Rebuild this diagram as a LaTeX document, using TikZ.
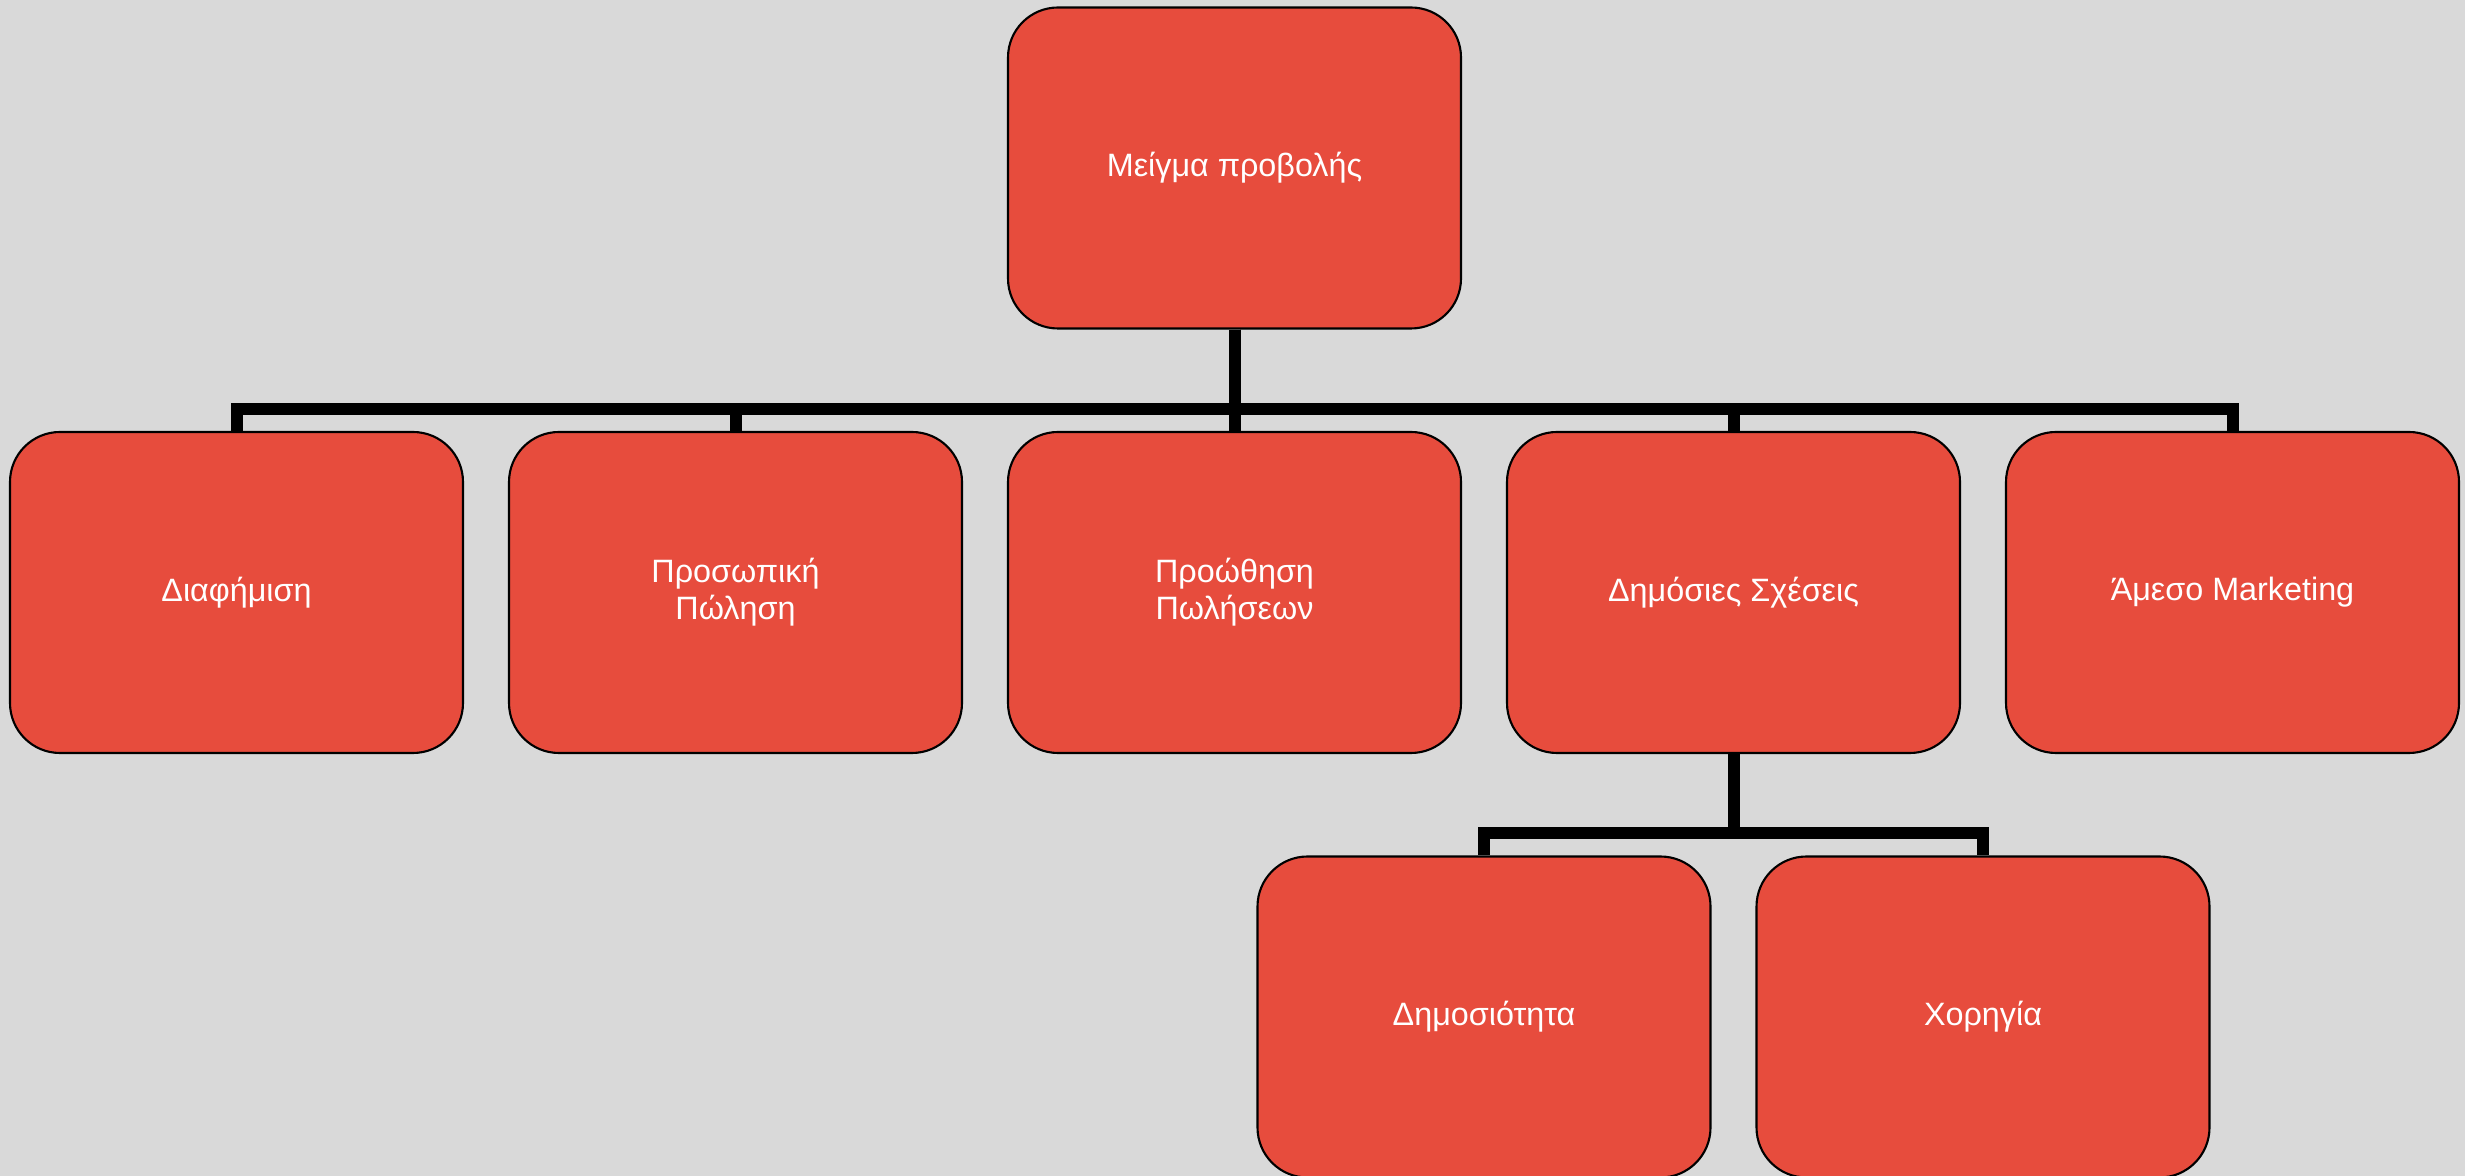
\documentclass[tikz,border=0pt]{standalone}
\usepackage{fontspec}
\setmainfont{Liberation Sans}
\usetikzlibrary{calc}
\definecolor{bggray}{HTML}{D9D9D9}
\definecolor{boxred}{HTML}{E74C3D}

\begin{document}
\begin{tikzpicture}[
  box/.style={draw=black, fill=boxred, line width=0.6pt, rounded corners=0.5cm, minimum width=4.53cm, minimum height=3.21cm, align=center, text=white, font=\fontsize{9.2}{10.6}\selectfont},
  bar/.style={line width=0.12cm, black},
]
  % Background and page size
  \fill[bggray] (0,0) rectangle (24.65,-11.76);
  \useasboundingbox (0,0) rectangle (24.65,-11.76);

  % Top
  \node[box] (mix) at (12.345, -1.68) {Μείγμα προβολής};

  % Second row
  \node[box] (adv)    at (2.365, -5.925)  {Διαφήμιση};
  \node[box] (pers)   at (7.355, -5.925)  {Προσωπική\\Πώληση};
  \node[box] (promo)  at (12.345, -5.925) {Προώθηση\\Πωλήσεων};
  \node[box] (pr)     at (17.335, -5.925) {Δημόσιες Σχέσεις};
  \node[box] (direct) at (22.325, -5.925) {Άμεσο Marketing};

  % Third row
  \node[box] (publ)  at (14.84, -10.17) {Δημοσιότητα};
  \node[box] (spons) at (19.83, -10.17) {Χορηγία};

  % Connectors
  \coordinate (j1) at (12.345, -4.09);
  \coordinate (j2) at (17.335, -8.335);
  \foreach \n in {adv, pers, promo, pr, direct}
    \draw[bar] (mix.south) -- (mix.south |- j1) -| (\n.north);
  \foreach \n in {publ, spons}
    \draw[bar] (pr.south) -- (j2) -| (\n.north);
\end{tikzpicture}
\end{document}
